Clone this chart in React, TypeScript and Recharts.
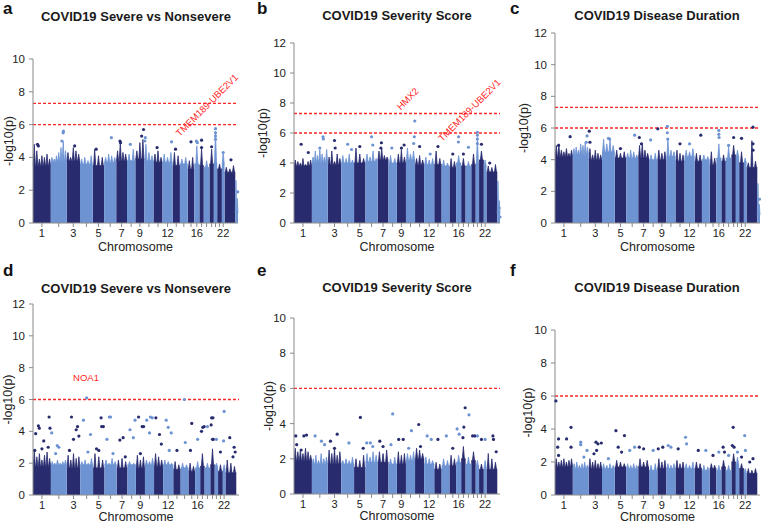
import React from 'react';
import { Area, ComposedChart, ReferenceLine, Scatter, XAxis, YAxis } from 'recharts';

// relative chromosome widths (SNP-weighted), 1..22, X, then the small XY/MT tail
const chromSizes = [177, 157, 133, 127, 113, 120, 107, 83, 90, 90, 90, 100, 73, 77, 66, 50, 44, 56, 44, 33, 47, 26, 107, 27];
const chromLabels = [1, 3, 5, 7, 9, 12, 16, 22];

const DARK = '#282c6e';
const LIGHT = '#6d93d3';
const RED = '#ff2626';
const AXIS = '#8a8a8a';

// dense SNP cloud per chromosome: first value = solid level, the rest = peak tops (-log10 p)
const severeBody1 = [
  [3.5, 4.8, 4.4, 3.9, 4.1, 4.0, 4.2, 3.9], [3.7, 4.0, 3.9, 4.1, 4.3, 4.6, 5.0, 4.4], [3.8, 4.3, 4.0, 4.6, 4.4, 4.2],
  [3.6, 3.9, 4.0, 3.8, 4.1], [3.5, 4.5, 4.1, 4.0], [3.7, 4.0, 4.2, 4.1, 4.0], [3.8, 4.4, 4.9, 4.3, 4.2], [3.8, 4.2, 4.5],
  [3.9, 4.4, 4.9, 5.1], [3.8, 4.8, 4.3, 4.1], [3.7, 4.2, 4.4, 4.0], [3.7, 4.2, 4.0, 4.3], [3.5, 4.3, 4.1], [3.6, 3.9, 4.0],
  [3.3, 3.8, 4.0], [3.6, 4.7], [3.5, 4.5], [3.4, 3.8], [3.6, 4.5], [3.7, 5.6], [3.3, 3.6], [3.6, 4.3], [3.1, 3.4, 3.3, 3.5],
  [0.6, 2.6, 1.5],
];
const scoreBody1 = [
  [3.8, 4.2, 4.1, 4.0, 4.3, 3.9, 4.1, 4.2], [4.0, 4.4, 4.8, 4.5, 4.9, 4.6, 4.4, 4.9], [3.9, 4.4, 4.8, 4.1, 4.6, 4.3],
  [4.0, 4.5, 4.3, 4.6, 4.2], [4.0, 5.0, 4.6, 4.3], [4.1, 4.6, 4.4, 4.8, 4.3], [4.2, 4.8, 5.0, 4.5, 4.4], [4.0, 4.5, 4.3],
  [4.0, 4.6, 4.9, 4.4], [4.2, 5.0, 4.6, 4.8], [3.9, 4.3, 4.5, 4.2], [3.9, 4.4, 4.2, 4.3], [3.9, 4.8, 4.3], [3.8, 4.2, 4.0],
  [3.7, 4.3, 4.1], [4.0, 4.5], [3.8, 4.3], [3.8, 4.1], [3.9, 4.6], [4.0, 5.7], [4.2, 4.8], [3.8, 4.2], [3.4, 3.8, 3.7, 3.9],
  [0.6, 2.8, 1.5],
];
const durationBody1 = [
  [4.2, 4.9, 5.0, 4.6, 4.5, 4.7, 4.4, 4.6], [4.3, 4.7, 4.8, 4.6, 5.0, 4.9, 5.1, 4.8], [4.0, 4.7, 4.3, 4.6, 4.4, 4.3],
  [4.5, 5.3, 5.0, 5.3, 4.9], [4.1, 4.6, 4.4, 4.5], [4.1, 4.4, 4.6, 4.5, 4.3], [4.1, 4.9, 5.0, 4.6, 4.4], [4.0, 4.3, 4.4],
  [4.0, 4.6, 4.4, 4.5], [4.2, 5.3, 4.6, 4.5], [3.9, 4.6, 4.4, 4.3], [4.2, 4.6, 4.5, 4.7], [3.9, 4.4, 4.3], [4.0, 4.3, 4.2],
  [3.7, 4.5, 4.1], [4.1, 5.0], [3.9, 4.3], [4.1, 4.8], [4.3, 4.9], [4.2, 4.6], [3.8, 4.5], [3.8, 4.1], [3.5, 3.8, 5.2, 3.9],
  [0.5, 2.5, 1.2],
];
const severeBody2 = [
  [1.8, 2.8, 2.4, 2.6, 2.2, 2.5, 2.7, 2.3], [1.9, 2.1, 2.0, 2.2, 2.0, 2.1, 2.2], [1.7, 2.5, 2.2, 2.6, 2.3, 2.4],
  [1.9, 2.1, 2.2, 2.0, 2.3], [1.7, 2.6, 2.4, 2.2], [1.9, 2.2, 2.0, 2.3, 2.1], [1.7, 2.2, 2.3, 2.1], [1.9, 2.1, 2.0],
  [1.7, 2.5, 2.2, 2.4], [1.9, 2.2, 2.1, 2.3], [1.8, 2.6, 2.4, 2.2], [1.9, 2.2, 2.1, 2.0], [1.6, 2.1, 1.9], [1.7, 2.0, 1.9],
  [1.5, 2.0, 1.8], [1.7, 2.1], [1.8, 2.6], [1.7, 2.0], [1.9, 2.9], [1.8, 2.0], [1.5, 1.9], [1.6, 1.9], [1.4, 2.2, 2.0, 1.8], [],
];
const scoreBody2 = [
  [1.9, 2.6, 2.4, 2.5, 2.3, 2.6, 2.4, 2.2], [1.7, 2.0, 2.2, 1.9, 2.3, 2.0, 2.1], [1.7, 2.5, 2.3, 2.6, 2.2, 2.4],
  [1.7, 1.9, 2.0, 1.9, 2.1], [1.5, 2.0, 1.9, 2.2], [1.8, 2.3, 2.1, 2.4, 2.2], [1.8, 2.4, 2.3, 2.5], [1.7, 2.0, 2.1],
  [1.7, 2.4, 2.2, 2.3], [1.9, 2.3, 2.2, 2.4], [2.0, 2.6, 2.5, 2.3], [1.7, 2.1, 2.0, 1.9], [1.4, 1.8, 1.7], [1.6, 2.0, 1.9],
  [1.6, 2.2, 2.0], [1.8, 2.2], [2.0, 2.7], [1.7, 2.1], [1.9, 2.4], [1.6, 1.9], [1.4, 1.7], [1.5, 1.9], [1.4, 2.3, 2.0, 1.8], [],
];
const durationBody2 = [
  [1.7, 2.2, 2.0, 2.1, 2.2, 2.0, 2.1, 2.2], [1.6, 1.9, 2.0, 1.8, 1.9, 2.0, 1.8], [1.6, 2.2, 2.0, 2.1, 1.9, 2.0],
  [1.6, 1.9, 1.8, 1.9, 1.8], [1.7, 2.1, 2.0, 1.9], [1.6, 1.9, 1.8, 1.9, 1.8], [1.7, 2.2, 2.0, 2.1], [1.5, 1.8, 1.9],
  [1.6, 2.2, 2.0, 2.1], [1.6, 1.9, 1.8, 1.9], [1.6, 2.1, 1.9, 2.0], [1.6, 1.9, 1.8, 2.0], [1.6, 2.0, 1.9], [1.5, 1.8, 1.7],
  [1.6, 1.9, 1.8], [1.5, 1.8], [1.7, 2.1], [1.5, 1.8], [2.0, 2.5], [1.9, 2.3], [1.6, 1.9], [1.4, 1.6], [1.3, 1.6, 1.5, 1.6], [],
];

// isolated SNPs above the cloud: [chromosome, position within chromosome, -log10 p]
const severeDots1 = [
  [1, 0.25, 4.8], [1, 0.3, 4.7], [2, 0.8, 5.6], [2, 0.78, 5.5], [2, 0.7, 5.0], [3, 0.6, 4.7], [5, 0.3, 4.5], [6, 0.6, 5.2],
  [7, 0.35, 5.0], [7, 0.4, 4.9], [8, 0.4, 4.8], [9, 0.9, 5.7], [9, 0.7, 5.3], [10, 0.1, 5.2], [10, 0.05, 5.0], [11, 0.4, 4.6],
  [12, 0.9, 4.95], [13, 0.4, 4.5], [15, 0.5, 4.95], [16, 0.4, 5.0], [16, 0.6, 4.9], [17, 0.5, 5.05], [17, 0.5, 4.6],
  [19, 0.5, 4.65], [20, 0.5, 5.75], [20, 0.5, 5.5], [20, 0.5, 5.3], [20, 0.5, 5.1], [22, 0.5, 4.3], [23, 0.6, 3.85], [24, 0.9, 1.9],
];
const scoreDots1 = [
  [1, 0.4, 5.25], [1, 0.8, 4.7], [2, 0.7, 5.75], [2, 0.72, 5.6], [2, 0.5, 5.0], [3, 0.5, 5.5], [3, 0.55, 5.0], [4, 0.5, 5.25],
  [4, 0.8, 4.9], [5, 0.5, 5.1], [6, 0.5, 5.75], [6, 0.6, 5.2], [7, 0.35, 5.35], [7, 0.3, 5.0], [8, 0.4, 5.0], [9, 0.5, 5.0],
  [9, 0.8, 5.2], [10, 0.97, 6.8], [10, 0.92, 5.75], [10, 0.85, 5.3], [11, 0.5, 5.1], [12, 0.6, 4.6], [13, 0.5, 5.1],
  [15, 0.5, 4.6], [16, 0.5, 5.75], [16, 0.45, 5.4], [17, 0.5, 4.6], [18, 0.5, 5.05], [20, 0.5, 6.05], [20, 0.5, 5.85],
  [20, 0.5, 5.6], [20, 0.5, 5.3], [21, 0.5, 5.25], [23, 0.3, 4.0], [24, 0.7, 1.0], [24, 1, 0.4],
];
const durationDots1 = [
  [1, 0.2, 4.9], [1, 0.85, 5.45], [2, 0.9, 5.5], [2, 0.85, 5.1], [3, 0.05, 5.8], [3, 0.1, 5.1], [4, 0.5, 5.35], [4, 0.6, 5.3],
  [5, 0.5, 4.7], [6, 0.7, 5.55], [7, 0.1, 5.4], [7, 0.3, 5.0], [8, 0.2, 5.25], [9, 0.05, 5.95], [10, 0.1, 6.1], [10, 0.1, 5.7],
  [10, 0.15, 5.3], [11, 0.5, 5.0], [12, 0.5, 5.0], [13, 0.85, 5.55], [16, 0.5, 5.85], [16, 0.5, 5.6], [16, 0.55, 5.4],
  [18, 0.5, 4.9], [19, 0.5, 5.4], [21, 0.5, 5.35], [23, 0.6, 6.05], [23, 0.6, 5.0], [23, 0.6, 4.6], [24, 0.8, 1.5],
];
const severeDots2 = [
  [1, 0.1, 2.8], [1, 0.15, 3.85], [1, 0.3, 4.35], [1, 0.35, 4.2], [1, 0.6, 3.4], [1, 0.9, 4.9], [1, 0.95, 4.2], [1, 0.5, 2.9],
  [1, 0.85, 3.0], [2, 0.05, 3.9], [2, 0.4, 3.1], [2, 0.5, 3.0], [2, 0.3, 2.6], [3, 0.35, 4.9], [3, 0.7, 4.1], [3, 0.8, 4.3],
  [3, 0.5, 3.5], [3, 0.2, 2.8], [3, 0.9, 3.7], [4, 0.5, 6.1], [4, 0.25, 4.7], [4, 0.8, 3.8], [4, 0.6, 2.7], [5, 0.7, 4.85],
  [5, 0.75, 4.3], [5, 0.9, 4.3], [5, 0.3, 2.9], [5, 0.5, 2.8], [6, 0.2, 3.5], [6, 0.4, 4.9], [6, 0.5, 4.9], [6, 0.7, 2.6],
  [7, 0.3, 3.45], [7, 0.6, 3.6], [7, 0.8, 2.4], [8, 0.3, 4.1], [8, 0.7, 3.6], [8, 0.9, 4.7], [9, 0.3, 4.9], [9, 0.7, 4.3],
  [9, 0.85, 4.3], [9, 0.5, 2.6], [10, 0.2, 4.7], [10, 0.6, 4.9], [10, 0.8, 4.85], [10, 0.5, 3.9], [11, 0.2, 4.85],
  [11, 0.6, 3.8], [11, 0.8, 3.2], [12, 0.3, 4.7], [12, 0.5, 4.25], [12, 0.8, 3.9], [12, 0.6, 2.8], [13, 0.5, 2.8],
  [14, 0.48, 6.0], [14, 0.6, 3.3], [15, 0.5, 4.5], [15, 0.3, 2.8], [16, 0.5, 3.5], [17, 0.3, 4.0], [17, 0.6, 4.25],
  [17, 0.9, 4.3], [18, 0.5, 4.3], [19, 0.3, 4.85], [19, 0.6, 4.85], [19, 0.2, 4.4], [19, 0.5, 3.5], [19, 0.7, 3.5],
  [20, 0.5, 3.5], [21, 0.5, 2.7], [22, 0.5, 5.25], [22, 0.3, 3.4], [23, 0.4, 3.6], [23, 0.8, 3.0], [23, 0.9, 2.7], [23, 0.7, 2.4],
];
const scoreDots2 = [
  [1, 0.1, 3.3], [1, 0.15, 2.8], [1, 0.55, 3.3], [1, 0.7, 3.35], [1, 0.4, 2.5], [2, 0.2, 3.3], [2, 0.6, 3.0], [2, 0.8, 2.8],
  [3, 0.7, 3.4], [3, 0.2, 3.0], [3, 0.5, 2.6], [4, 0.6, 2.9], [5, 0.55, 4.35], [5, 0.8, 2.6], [6, 0.1, 2.9], [6, 0.4, 2.9],
  [6, 0.6, 2.7], [7, 0.2, 3.0], [7, 0.5, 2.7], [8, 0.5, 4.55], [8, 0.3, 2.8], [9, 0.2, 3.1], [9, 0.7, 3.1], [10, 0.6, 3.6],
  [10, 0.3, 2.6], [11, 0.4, 3.95], [11, 0.6, 2.7], [12, 0.3, 3.3], [12, 0.7, 3.1], [13, 0.5, 3.1], [14, 0.6, 3.3],
  [15, 0.5, 2.6], [16, 0.2, 3.7], [16, 0.6, 3.4], [17, 0.9, 4.9], [17, 0.6, 3.8], [17, 0.4, 3.2], [18, 0.6, 4.5],
  [19, 0.3, 3.3], [19, 0.8, 3.3], [20, 0.5, 3.3], [21, 0.5, 3.1], [22, 0.5, 3.1], [23, 0.6, 3.3], [23, 0.65, 3.1], [23, 0.9, 2.4],
];
const durationDots2 = [
  [1, 0.05, 5.7], [1, 0.2, 3.4], [1, 0.15, 2.9], [1, 0.2, 2.4], [1, 0.9, 4.1], [1, 0.65, 3.4], [1, 0.9, 2.9], [2, 0.5, 3.2],
  [2, 0.5, 3.05], [2, 0.9, 2.7], [2, 0.7, 2.3], [3, 0.55, 3.2], [3, 0.7, 3.1], [3, 0.4, 2.5], [3, 0.95, 3.15], [3, 0.6, 2.7],
  [4, 0.5, 2.2], [5, 0.1, 3.9], [5, 0.85, 3.6], [5, 0.3, 2.9], [5, 0.6, 2.6], [6, 0.3, 2.7], [6, 0.7, 2.9], [7, 0.1, 2.9],
  [7, 0.5, 2.8], [8, 0.5, 2.7], [9, 0.1, 2.8], [9, 0.6, 2.9], [10, 0.2, 3.0], [10, 0.5, 2.9], [11, 0.3, 2.8], [12, 0.1, 3.5],
  [12, 0.2, 3.1], [13, 0.5, 2.7], [14, 0.5, 2.7], [15, 0.5, 2.4], [16, 0.5, 2.6], [17, 0.4, 2.9], [17, 0.7, 2.6],
  [18, 0.5, 2.4], [19, 0.4, 4.1], [19, 0.2, 3.0], [19, 0.6, 2.9], [20, 0.5, 2.6], [21, 0.5, 2.3], [22, 0.3, 3.6],
  [22, 0.6, 2.7], [23, 0.3, 2.0], [23, 0.6, 2.2],
];

// gene annotations: [chromosome, position, -log10 p, text, angle]
const severeGenes1 = [[13, 0.98, 5.25, 'TMEM189-UBE2V1', -45]];
const scoreGenes1 = [[9, 0.42, 7.5, 'HMX2', -45], [14, 0.09, 5.4, 'TMEM189-UBE2V1', -45]];
const severeGenes2 = [[4, 0.45, 7.4, 'NOA1', 0]];

const starts: number[] = [];
chromSizes.reduce((acc, s) => { starts.push(acc); return acc + s; }, 0);
const totalLen = chromSizes.reduce((a, b) => a + b, 0);
const centerTicks = chromSizes.slice(0, 22).map((s, i) => starts[i] + s / 2);

// outline of each chromosome block: flat solid level with narrow peaks at evenly spread places
const buildRows = (body: number[][]) => {
  const rows: any[] = [];
  body.forEach((vals, i) => {
    if (!vals.length) return;
    const dark = i % 2 === 0;
    const push = (x: number, v: number) => rows.push({ x, dark: dark ? v : null, light: dark ? null : v });
    const [base, ...peaks] = vals;
    const s = starts[i];
    const w = chromSizes[i];
    const hw = Math.min(w / (2 * peaks.length), 10);
    push(s, base);
    peaks.forEach((p, k) => {
      const c = s + (w * (k + 0.5)) / peaks.length;
      push(c - hw, base);
      push(c, p);
      push(c + hw, base);
    });
    push(s + w, base);
  });
  return rows;
};

const toPoints = (dots: number[][], dark: boolean) =>
  dots
    .filter((d) => ((d[0] - 1) % 2 === 0) === dark)
    .map((d) => ({ x: starts[d[0] - 1] + d[1] * chromSizes[d[0] - 1], y: d[2] }));

const panels = [
  { letter: 'a', title: 'COVID19 Severe vs Nonsevere', left: 0, top: 0, width: 250, height: 262, axisX: 33, plotRight: 238, plotTop: 59, plotBottom: 223, yMax: 10, labelX: 9, lines: [7.3, 6], body: severeBody1, dots: severeDots1, genes: severeGenes1, titleX: 136, titleY: 17 },
  { letter: 'b', title: 'COVID19 Severity Score', left: 254, top: 0, width: 254, height: 262, axisX: 294, plotRight: 500, plotTop: 43, plotBottom: 223, yMax: 12, labelX: 9, lines: [7.3, 6], body: scoreBody1, dots: scoreDots1, genes: scoreGenes1, titleX: 397, titleY: 16 },
  { letter: 'c', title: 'COVID19 Disease Duration', left: 507, top: 0, width: 254, height: 262, axisX: 555, plotRight: 760, plotTop: 33, plotBottom: 223, yMax: 12, labelX: 17, lines: [7.3, 6], body: durationBody1, dots: durationDots1, genes: [], titleX: 657, titleY: 16 },
  { letter: 'd', title: 'COVID19 Severe vs Nonsevere', left: 0, top: 262, width: 250, height: 262, axisX: 33, plotRight: 239, plotTop: 304, plotBottom: 495, yMax: 12, labelX: 8, lines: [6], body: severeBody2, dots: severeDots2, genes: severeGenes2, titleX: 136, titleY: 289 },
  { letter: 'e', title: 'COVID19 Severity Score', left: 254, top: 262, width: 254, height: 262, axisX: 294, plotRight: 500, plotTop: 318, plotBottom: 494, yMax: 10, labelX: 15, lines: [6], body: scoreBody2, dots: scoreDots2, genes: [], titleX: 397, titleY: 288 },
  { letter: 'f', title: 'COVID19 Disease Duration', left: 507, top: 262, width: 254, height: 262, axisX: 555, plotRight: 760, plotTop: 330, plotBottom: 495, yMax: 10, labelX: 21, lines: [6], body: durationBody2, dots: durationDots2, genes: [], titleX: 657, titleY: 288 },
];

const dotShape = (color: string) => (p: any) => <circle cx={p.cx} cy={p.cy} r={1.6} fill={color} />;

const geneShape = (p: any) => {
  const angle = p.payload.angle;
  return (
    <text
      x={p.cx}
      y={p.cy}
      fill={RED}
      fontSize={9.5}
      textAnchor={angle === 0 ? 'middle' : 'start'}
      dominantBaseline={angle === 0 ? 'central' : 'alphabetic'}
      transform={angle === 0 ? undefined : `rotate(${angle} ${p.cx} ${p.cy})`}
    >
      {p.payload.label}
    </text>
  );
};

const Manhattan = ({ cfg }: { cfg: any }) => {
  const rows = buildRows(cfg.body);
  const darkDots = toPoints(cfg.dots, true);
  const lightDots = toPoints(cfg.dots, false);
  const genes = cfg.genes.map((g: any) => ({ x: starts[g[0] - 1] + g[1] * chromSizes[g[0] - 1], y: g[2], label: g[3], angle: g[4] }));
  const yTicks = Array.from({ length: cfg.yMax / 2 + 1 }, (_, i) => i * 2);
  const xHeight = cfg.top > 0 ? 26 : 28;
  return (
    <div style={{ position: 'absolute', left: cfg.left, top: cfg.top, width: cfg.width, height: cfg.height }}>
      <ComposedChart
        width={cfg.width}
        height={cfg.height}
        data={rows}
        margin={{
          top: cfg.plotTop - cfg.top,
          left: 0,
          right: cfg.left + cfg.width - cfg.plotRight,
          bottom: cfg.top + cfg.height - cfg.plotBottom - xHeight,
        }}
      >
        <XAxis
          dataKey="x"
          type="number"
          domain={[0, totalLen]}
          ticks={centerTicks}
          interval={0}
          height={xHeight}
          tickSize={4}
          tickMargin={2}
          stroke={AXIS}
          tick={{ fontSize: 11, fill: '#222' }}
          tickFormatter={(_v: number, i: number) => (chromLabels.includes(i + 1) ? String(i + 1) : '')}
          label={{ value: 'Chromosome', position: 'insideBottom', offset: 0, fontSize: 12.5, fill: '#222' }}
        />
        <YAxis
          dataKey="y"
          type="number"
          domain={[0, cfg.yMax]}
          ticks={yTicks}
          interval={0}
          width={cfg.axisX - cfg.left}
          tickSize={4}
          tickMargin={4}
          stroke={AXIS}
          tick={{ fontSize: 11.5, fill: '#222' }}
          label={{ value: '-log10(p)', angle: -90, position: 'insideLeft', offset: cfg.labelX, fontSize: 12.5, fill: '#222', style: { textAnchor: 'middle' } }}
        />
        <Area dataKey="dark" type="linear" stroke={DARK} strokeWidth={0.8} fill={DARK} fillOpacity={1} isAnimationActive={false} dot={false} activeDot={false} />
        <Area dataKey="light" type="linear" stroke={LIGHT} strokeWidth={0.8} fill={LIGHT} fillOpacity={1} isAnimationActive={false} dot={false} activeDot={false} />
        <Scatter data={darkDots} shape={dotShape(DARK)} isAnimationActive={false} />
        <Scatter data={lightDots} shape={dotShape(LIGHT)} isAnimationActive={false} />
        {cfg.lines.map((v: number) => (
          <ReferenceLine key={v} y={v} stroke={RED} strokeWidth={1.3} strokeDasharray="3 2" />
        ))}
        {genes.length > 0 && <Scatter data={genes} shape={geneShape} isAnimationActive={false} />}
      </ComposedChart>
    </div>
  );
};

export default function App() {
  return (
    <div style={{ position: 'absolute', left: 0, top: 0, width: 761, height: 524, background: '#fff', fontFamily: '"Liberation Sans", Arial, Helvetica, sans-serif', overflow: 'hidden' }}>
      {panels.map((p) => (
        <Manhattan key={p.letter} cfg={p} />
      ))}
      {panels.map((p) => (
        <div key={'t' + p.letter}>
          <div style={{ position: 'absolute', left: p.left + 3, top: p.top, fontSize: 17, fontWeight: 'bold', lineHeight: '17px', color: '#111' }}>{p.letter}</div>
          <div style={{ position: 'absolute', left: p.titleX - 125, width: 250, top: p.titleY - 7, textAlign: 'center', fontSize: 13, fontWeight: 'bold', lineHeight: '13px', color: '#1a1a1a' }}>{p.title}</div>
        </div>
      ))}
    </div>
  );
}
